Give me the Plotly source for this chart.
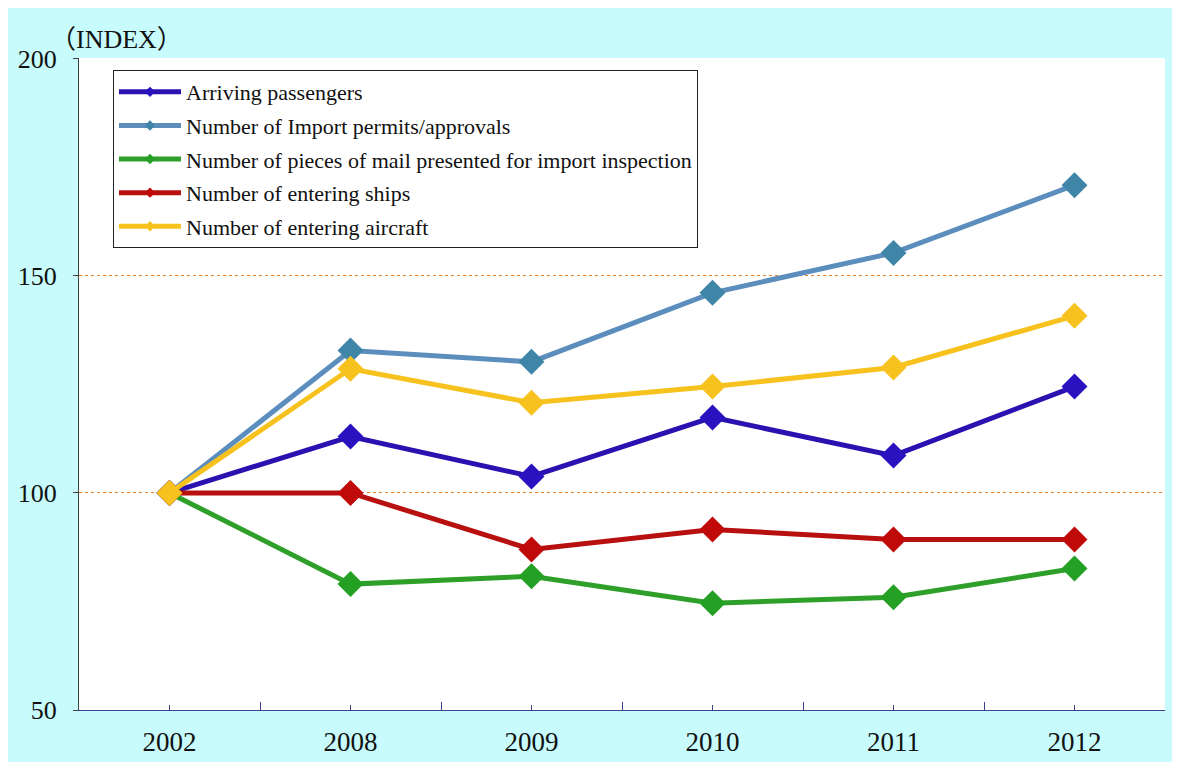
import plotly.graph_objects as go

years = ["2002", "2008", "2009", "2010", "2011", "2012"]
arriving_passengers = [100, 113.0, 103.8, 117.4, 108.6, 124.5]
import_permits = [100, 132.8, 130.2, 146.1, 155.3, 170.9]
mail_pieces = [100, 79.0, 80.8, 74.6, 76.0, 82.6]
entering_ships = [100, 100.0, 87.0, 91.6, 89.3, 89.3]
entering_aircraft = [100, 128.6, 120.8, 124.5, 128.9, 140.8]

series_names = [
    "Arriving passengers",
    "Number of Import permits/approvals",
    "Number of pieces of mail presented for import inspection",
    "Number of entering ships",
    "Number of entering aircraft",
]
series_values = [arriving_passengers, import_permits, mail_pieces, entering_ships, entering_aircraft]
line_colors = ["#2a12b0", "#5b8dbd", "#2ea02a", "#b8100f", "#f7c21e"]
marker_colors = ["#2a12c0", "#3f85a8", "#24a024", "#c00a0a", "#f7c21e"]

y_ticks = [50, 100, 150, 200]

SERIF = "Liberation Serif, Times New Roman, Noto Sans CJK JP, serif"

fig = go.Figure()

for i, (name, vals) in enumerate(zip(series_names, series_values)):
    fig.add_trace(go.Scatter(
        x=years, y=vals, mode="lines+markers", name=name,
        line=dict(color=line_colors[i], width=5),
        marker=dict(symbol="diamond", size=20, color=marker_colors[i],
                    line=dict(width=0)),
        showlegend=False,
    ))

for i, name in enumerate(series_names):
    fig.add_trace(go.Scatter(
        x=[None], y=[None], mode="lines+markers", name=name,
        line=dict(color=line_colors[i], width=5),
        marker=dict(symbol="diamond", size=8, color=marker_colors[i]),
        legendgroup=f"g{i}", showlegend=True,
    ))

fig.update_layout(
    width=1180, height=762,
    margin=dict(l=71, r=23, t=50, b=60, autoexpand=False),
    paper_bgcolor="#c8fbfb",
    plot_bgcolor="white",
    font=dict(family=SERIF, color="#111111"),
    legend=dict(
        x=0.0313, y=0.9815, xanchor="left", yanchor="top",
        bgcolor="white", bordercolor="#222222", borderwidth=1,
        font=dict(family=SERIF, size=22, color="#111111"),
        traceorder="grouped", tracegroupgap=2, itemwidth=62,
    ),
    xaxis=dict(
        type="category", categoryorder="array", categoryarray=years,
        range=[-0.5, 5.5], automargin=False,
        showline=True, linecolor="#3a3f8f", linewidth=1,
        ticks="inside", ticklen=5, tickcolor="#3a3f8f",
        tickfont=dict(family=SERIF, size=27, color="#111111"),
        ticklabelstandoff=8,
        showgrid=False, zeroline=False,
    ),
    xaxis2=dict(
        type="category", categoryorder="array", categoryarray=years,
        range=[-0.5, 5.5], overlaying="x", side="bottom", automargin=False,
        tickson="boundaries", ticks="inside", ticklen=8, tickcolor="#3a3f8f",
        showticklabels=False, showline=False, showgrid=False, zeroline=False,
        anchor="y",
    ),
    yaxis=dict(
        range=[50, 200.2], tickvals=y_ticks, automargin=False,
        showline=True, linecolor="#404040", linewidth=1,
        ticks="outside", ticklen=5, tickcolor="#404040",
        tickfont=dict(family=SERIF, size=26, color="#111111"),
        ticklabelstandoff=11,
        showgrid=True, gridcolor="#e8832a", griddash="dot", gridwidth=1,
        zeroline=False,
    ),
)

fig.add_trace(go.Scatter(x=years, y=[None]*len(years), xaxis="x2", yaxis="y",
                         showlegend=False, hoverinfo="skip"))

fig.add_annotation(text="（INDEX）", xref="paper", yref="paper",
                   x=-0.029, y=1.028, xanchor="left", yanchor="middle",
                   showarrow=False,
                   font=dict(family=SERIF, size=26, color="#111111"))

fig.write_html("out.html")
